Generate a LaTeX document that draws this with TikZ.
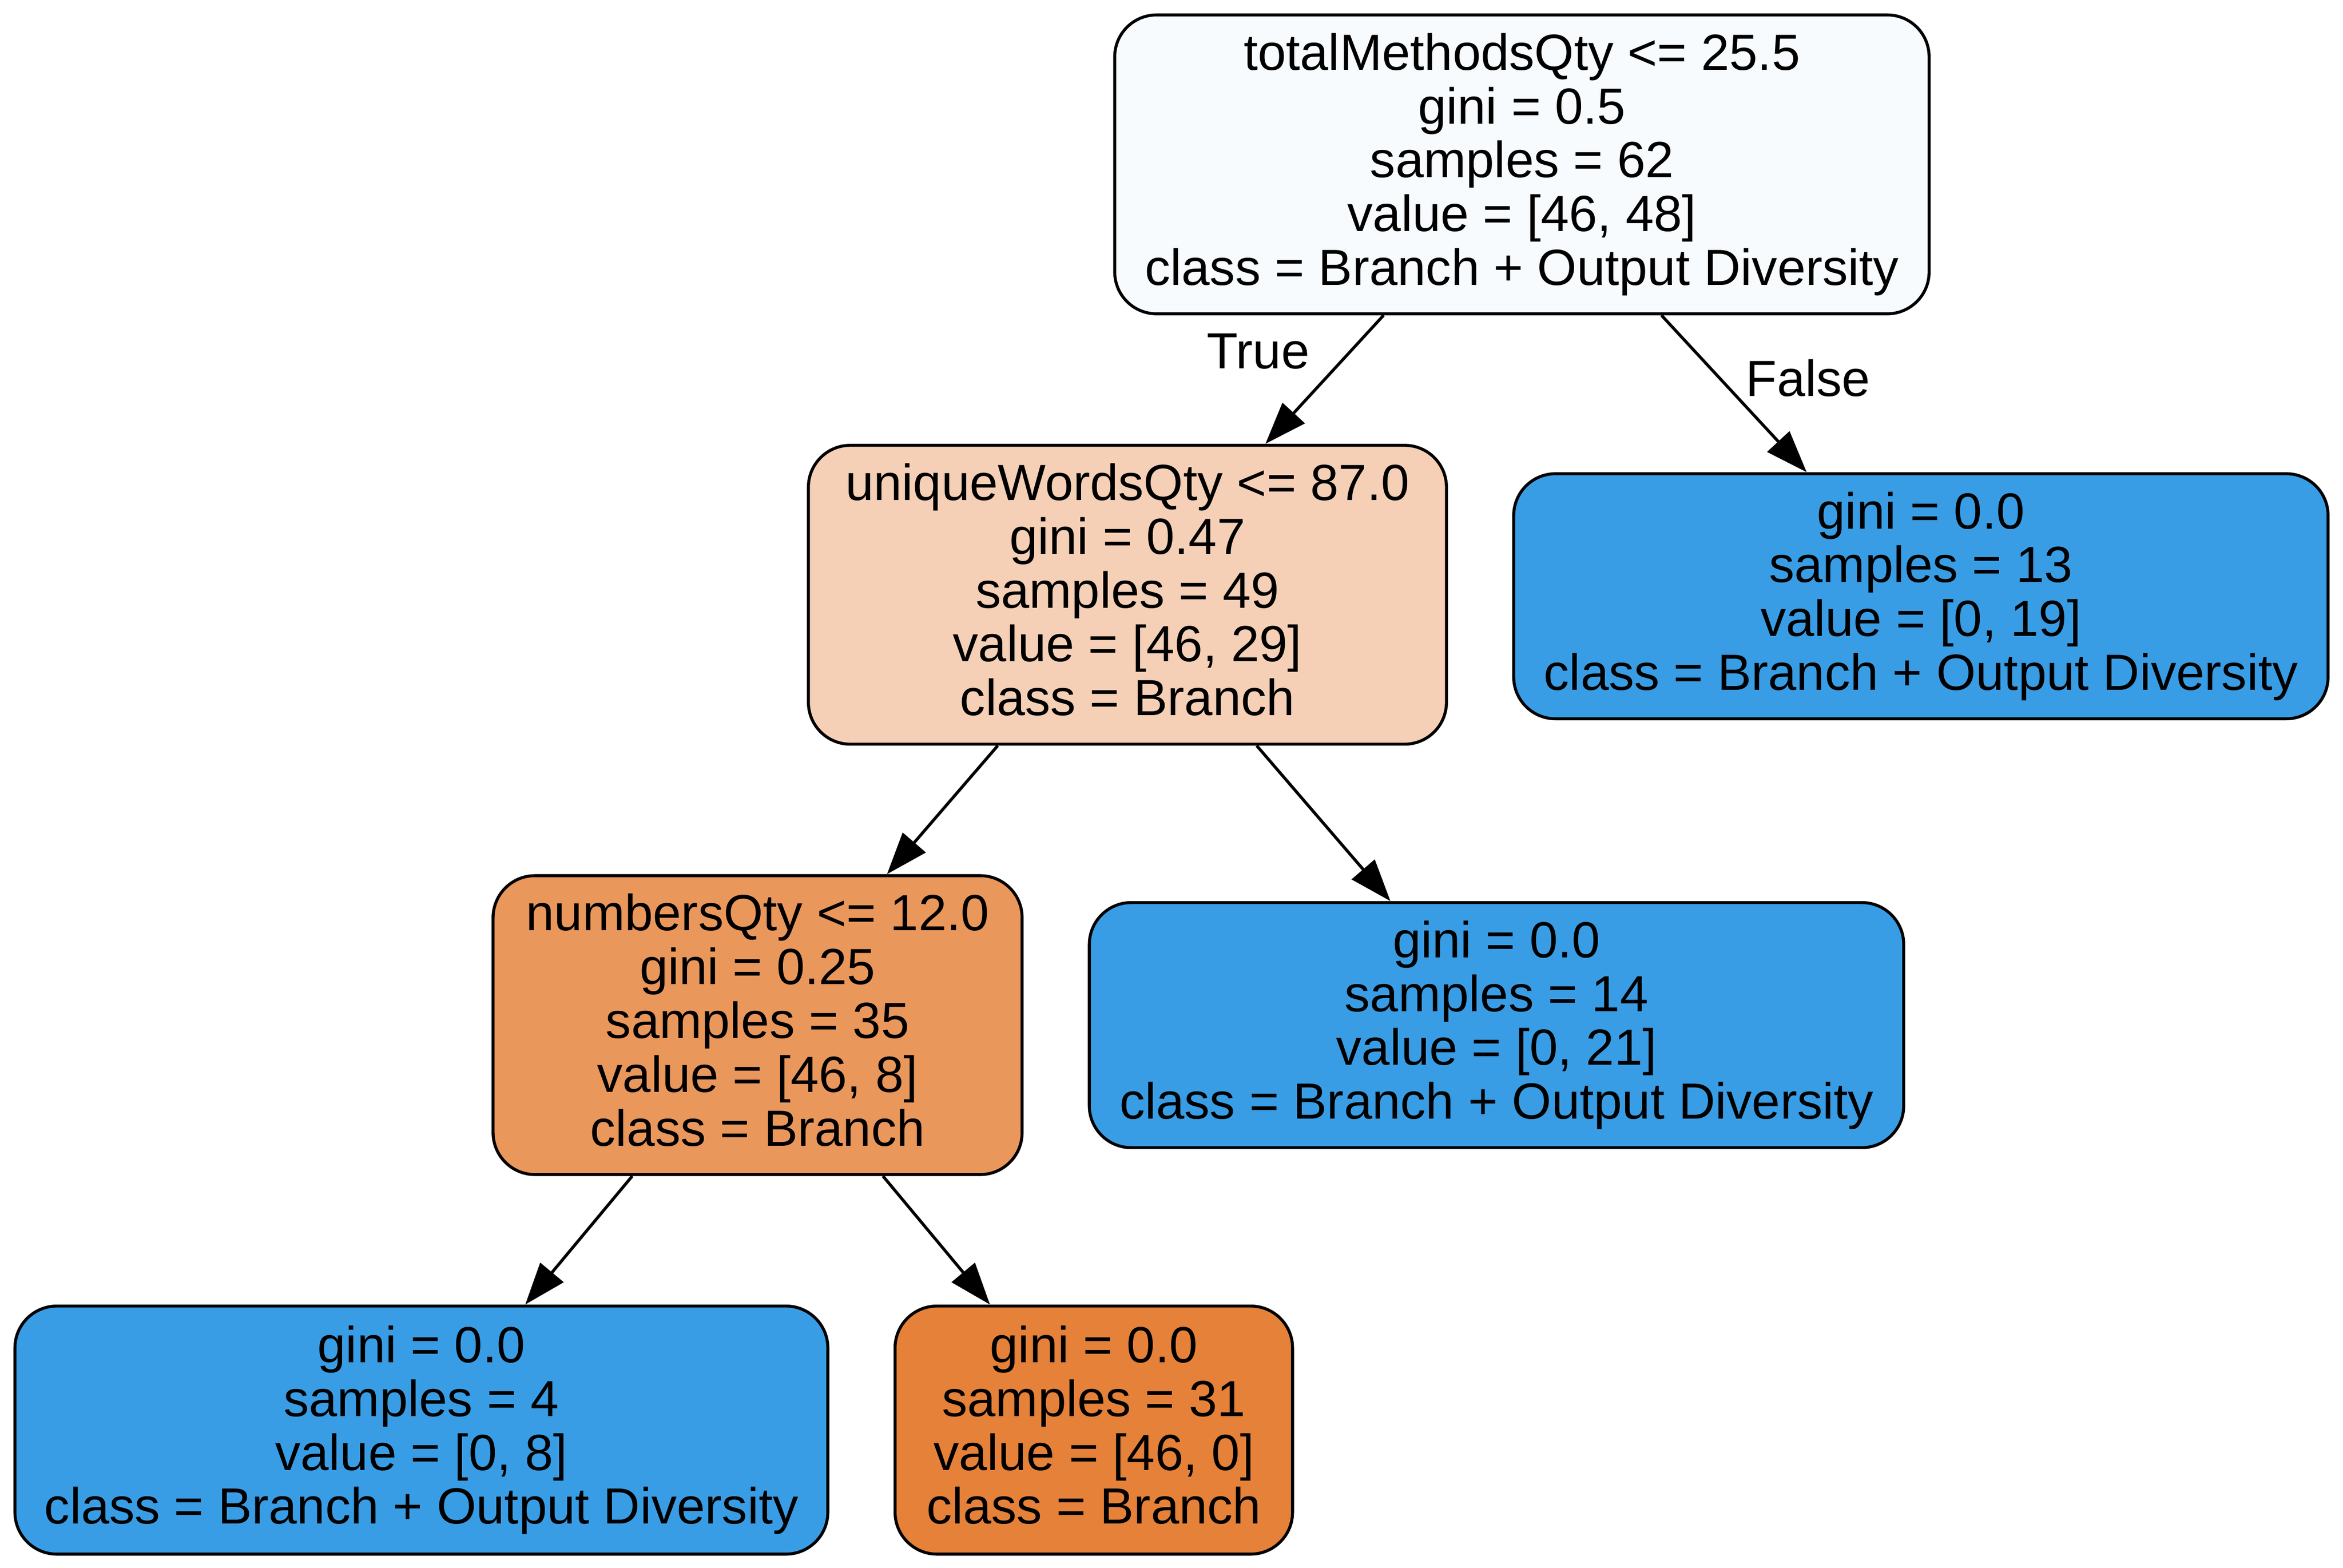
\documentclass[tikz,border=0pt]{standalone}
\usepackage{fontspec}
\setmainfont{Liberation Sans}
\usetikzlibrary{arrows.meta}
\definecolor{cRoot}{HTML}{F7FBFE}
\definecolor{cLightOr}{HTML}{F5D0B6}
\definecolor{cMidOr}{HTML}{EA975C}
\definecolor{cOr}{HTML}{E58139}
\definecolor{cBlue}{HTML}{399DE5}
\begin{document}
\begin{tikzpicture}[x=1pt,y=-1pt,
  tbox/.style={draw=black, line width=2pt, rounded corners=28pt, align=center,
    inner sep=0pt, font=\fontsize{34}{36}\selectfont},
  edge/.style={line width=2pt, -{Triangle[length=28pt,width=20pt]}},
  elabel/.style={inner sep=0pt, font=\fontsize{34}{36}\selectfont}]
\useasboundingbox (0,0) rectangle (1568,1049);
\node[tbox, fill=cRoot, minimum width=545pt, minimum height=200pt] (root) at (1018.5,110)
  {totalMethodsQty <= 25.5\\gini = 0.5\\samples = 62\\value = [46, 48]\\class = Branch + Output Diversity};
\node[tbox, fill=cLightOr, minimum width=427pt, minimum height=200pt] (n1) at (754.5,398)
  {uniqueWordsQty <= 87.0\\gini = 0.47\\samples = 49\\value = [46, 29]\\class = Branch\vphantom{y}};
\node[tbox, fill=cBlue, minimum width=545pt, minimum height=164pt] (n2) at (1285.5,399)
  {gini = 0.0\\samples = 13\\value = [0, 19]\\class = Branch + Output Diversity};
\node[tbox, fill=cMidOr, minimum width=354pt, minimum height=200pt] (n3) at (507,686)
  {numbersQty <= 12.0\\gini = 0.25\\samples = 35\\value = [46, 8]\\class = Branch\vphantom{y}};
\node[tbox, fill=cBlue, minimum width=545pt, minimum height=164pt] (n4) at (1001.5,686)
  {gini = 0.0\\samples = 14\\value = [0, 21]\\class = Branch + Output Diversity};
\node[tbox, fill=cBlue, minimum width=544pt, minimum height=166pt] (n5) at (282,957)
  {gini = 0.0\\samples = 4\\value = [0, 8]\\class = Branch + Output Diversity};
\node[tbox, fill=cOr, minimum width=266pt, minimum height=166pt] (n6) at (732,957)
  {gini = 0.0\\samples = 31\\value = [46, 0]\\class = Branch\vphantom{y}};
\draw[edge] (root) -- (n1);
\draw[edge] (root) -- (n2);
\draw[edge] (n1) -- (n3);
\draw[edge] (n1) -- (n4);
\draw[edge] (n3) -- (n5);
\draw[edge] (n3) -- (n6);
\node[elabel] (ltrue) at (842,235) {True};
\node[elabel] (lfalse) at (1210,253) {False};
\end{tikzpicture}
\end{document}
